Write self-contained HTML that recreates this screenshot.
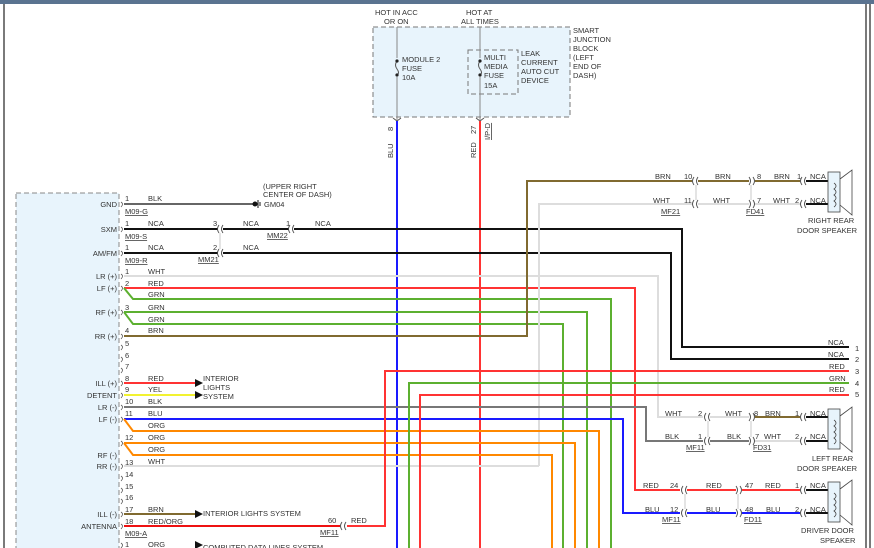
<!DOCTYPE html>
<html><head><meta charset="utf-8"><style>
html,body{margin:0;padding:0;background:#fff;}
svg{display:block;font-family:"Liberation Sans",sans-serif;}
text{font-size:7.5px;fill:#333;}
.u{text-decoration:underline;}
</style></head><body>
<svg width="874" height="548" viewBox="0 0 874 548" xmlns="http://www.w3.org/2000/svg">
<rect x="0" y="0" width="874" height="4" fill="#5a7390"/>
<line x1="4" y1="4" x2="4" y2="548" stroke="#222" stroke-width="1.2"/>
<line x1="866" y1="4" x2="866" y2="548" stroke="#222" stroke-width="1.2"/>
<line x1="870" y1="4" x2="870" y2="548" stroke="#222" stroke-width="1.2"/>

<!-- junction block -->
<rect x="373" y="27" width="197" height="90" fill="#e8f4fc" stroke="#777" stroke-dasharray="5,3"/>
<rect x="468" y="50" width="50" height="44" fill="none" stroke="#777" stroke-dasharray="5,3"/>
<text x="375" y="15">HOT IN ACC</text><text x="384" y="24">OR ON</text>
<text x="466" y="15">HOT AT</text><text x="461" y="24">ALL TIMES</text>
<text x="573" y="33">SMART</text><text x="573" y="42">JUNCTION</text><text x="573" y="51">BLOCK</text><text x="573" y="60">(LEFT</text><text x="573" y="69">END OF</text><text x="573" y="78">DASH)</text>
<text x="521" y="56">LEAK</text><text x="521" y="65">CURRENT</text><text x="521" y="74">AUTO CUT</text><text x="521" y="83">DEVICE</text>
<text x="402" y="62">MODULE 2</text><text x="402" y="71">FUSE</text><text x="402" y="80">10A</text>
<text x="484" y="60">MULTI</text><text x="484" y="69">MEDIA</text><text x="484" y="78">FUSE</text><text x="484" y="88">15A</text>
<line x1="397" y1="27" x2="397" y2="58" stroke="#888"/><line x1="397" y1="77" x2="397" y2="120" stroke="#888"/>
<path d="M397 61 q-3 4 0 8 q3 4 0 6" fill="none" stroke="#555"/>
<circle cx="397" cy="61" r="1.6" fill="#222"/><circle cx="397" cy="75" r="1.6" fill="#222"/>
<line x1="480" y1="27" x2="480" y2="58" stroke="#888"/><line x1="480" y1="77" x2="480" y2="120" stroke="#888"/>
<path d="M480 61 q-3 4 0 8 q3 4 0 6" fill="none" stroke="#555"/>
<circle cx="480" cy="61" r="1.6" fill="#222"/><circle cx="480" cy="75" r="1.6" fill="#222"/>
<path d="M393 118 l4 3 l4 -3 M476 118 l4 3 l4 -3" fill="none" stroke="#555"/>
<text transform="translate(393,131) rotate(-90)">8</text>
<text transform="translate(393,158) rotate(-90)">BLU</text>
<text transform="translate(476,134) rotate(-90)">27</text>
<text transform="translate(476,158) rotate(-90)">RED</text>
<text class="u" transform="translate(490,140) rotate(-90)">I/P-D</text>

<!-- left module -->
<rect x="16" y="193" width="103" height="360" fill="#e8f4fc" stroke="#888" stroke-dasharray="5,3"/>
<g text-anchor="end">
<text x="117" y="207">GND</text><text x="117" y="232">SXM</text><text x="117" y="256">AM/FM</text>
<text x="117" y="279">LR (+)</text><text x="117" y="291">LF (+)</text><text x="117" y="315">RF (+)</text><text x="117" y="339">RR (+)</text>
<text x="117" y="386">ILL (+)</text><text x="117" y="398">DETENT</text><text x="117" y="410">LR (-)</text><text x="117" y="422">LF (-)</text>
<text x="117" y="458">RF (-)</text><text x="117" y="469">RR (-)</text><text x="117" y="517">ILL (-)</text><text x="117" y="529">ANTENNA</text>
</g>
<g fill="none" stroke="#555" stroke-width="0.8">
<path d="M121 202 q3 2 0 5 M121 227 q3 2 0 5 M121 251 q3 2 0 5 M121 274 q3 2 0 5 M121 286 q3 2 0 5 M121 310 q3 2 0 5 M121 334 q3 2 0 5 M121 345 q3 2 0 5 M121 357 q3 2 0 5 M121 368 q3 2 0 5 M121 381 q3 2 0 5 M121 393 q3 2 0 5 M121 405 q3 2 0 5 M121 417 q3 2 0 5 M121 441 q3 2 0 5 M121 464 q3 2 0 5 M121 476 q3 2 0 5 M121 488 q3 2 0 5 M121 499 q3 2 0 5 M121 512 q3 2 0 5 M121 524 q3 2 0 5 M121 543 q3 2 0 5"/>
</g>
<g>
<text x="125" y="201">1</text><text x="125" y="226">1</text><text x="125" y="250">1</text><text x="125" y="274">1</text><text x="125" y="286">2</text><text x="125" y="310">3</text><text x="125" y="333">4</text>
<text x="125" y="346">5</text><text x="125" y="358">6</text><text x="125" y="369">7</text><text x="125" y="381">8</text><text x="125" y="392">9</text><text x="125" y="404">10</text><text x="125" y="416">11</text><text x="125" y="440">12</text><text x="125" y="465">13</text><text x="125" y="477">14</text><text x="125" y="489">15</text><text x="125" y="500">16</text><text x="125" y="512">17</text><text x="125" y="524">18</text><text x="125" y="547">1</text>
<text x="148" y="201">BLK</text><text x="148" y="226">NCA</text><text x="148" y="250">NCA</text><text x="148" y="274">WHT</text><text x="148" y="286">RED</text><text x="148" y="297">GRN</text><text x="148" y="310">GRN</text><text x="148" y="322">GRN</text><text x="148" y="333">BRN</text>
<text x="148" y="381">RED</text><text x="148" y="392">YEL</text><text x="148" y="404">BLK</text><text x="148" y="416">BLU</text><text x="148" y="428">ORG</text><text x="148" y="440">ORG</text><text x="148" y="452">ORG</text><text x="148" y="464">WHT</text><text x="148" y="512">BRN</text><text x="148" y="524">RED/ORG</text><text x="148" y="547">ORG</text>
<text class="u" x="125" y="214">M09-G</text><text class="u" x="125" y="239">M09-S</text><text class="u" x="125" y="263">M09-R</text><text class="u" x="125" y="536">M09-A</text>
<text x="263" y="189">(UPPER RIGHT</text><text x="263" y="197">CENTER OF DASH)</text><text x="264" y="207">GM04</text>
<text x="213" y="226">3</text><text x="243" y="226">NCA</text><text x="286" y="226">1</text><text x="315" y="226">NCA</text><text class="u" x="267" y="238">MM22</text>
<text x="213" y="250">2</text><text x="243" y="250">NCA</text><text class="u" x="198" y="262">MM21</text>
<text x="203" y="381">INTERIOR</text><text x="203" y="390">LIGHTS</text><text x="203" y="399">SYSTEM</text>
<text x="203" y="516">INTERIOR LIGHTS SYSTEM</text><text x="203" y="550">COMPUTED DATA LINES SYSTEM</text>
<text x="328" y="523">60</text><text x="351" y="523">RED</text><text class="u" x="320" y="535">MF11</text>
</g>

<g fill="none" stroke-width="2">
<!-- verticals from top -->
<line x1="397" y1="121" x2="397" y2="548" stroke="#1a1aff"/>
<line x1="480" y1="121" x2="480" y2="548" stroke="#ff3333"/>
<!-- GND / SXM / AMFM -->
<line x1="124" y1="204" x2="255" y2="204" stroke="#666"/>
<polyline points="124,229 218,229" stroke="#111"/>
<polyline points="223,229 289,229" stroke="#111"/>
<polyline points="294,229 682,229 682,347 849,347" stroke="#111"/>
<polyline points="124,253 218,253" stroke="#111"/>
<polyline points="223,253 671,253 671,359 849,359" stroke="#111"/>
<!-- speaker + rows -->
<polyline points="124,276 658,276 658,417 703,417" stroke="#ddd"/>
<polyline points="124,288 635,288 635,490 680,490" stroke="#ff3333"/>
<polyline points="124,288 133,299 611,299 611,548" stroke="#5cb030"/>
<polyline points="124,312 587,312 587,548" stroke="#5cb030"/>
<polyline points="124,312 133,324 563,324 563,548" stroke="#5cb030"/>
<polyline points="124,336 527,336 527,181 692,181" stroke="#806a30"/>
<polyline points="539,466 539,204 692,204" stroke="#ddd"/>
<polyline points="124,466 539,466" stroke="#ddd"/>
<polyline points="124,383 195,383" stroke="#ff3333"/>
<polyline points="124,395 195,395" stroke="#f2f230"/>
<polyline points="124,407 646,407 646,441 703,441" stroke="#777"/>
<polyline points="124,419 623,419 623,513 680,513" stroke="#1a1aff"/>
<polyline points="124,419 133,431 599,431 599,548" stroke="#ff8800"/>
<polyline points="124,443 575,443 575,548" stroke="#ff8800"/>
<polyline points="124,443 133,455 552,455 552,548" stroke="#ff8800"/>
<polyline points="124,514 195,514" stroke="#806a30"/>
<polyline points="124,526 340,526" stroke="#ee1111"/>
<polyline points="347,526 385,526 385,371 849,371" stroke="#ff3333"/>
<polyline points="409,548 409,383 849,383" stroke="#5cb030"/>
<polyline points="420,548 420,395 849,395" stroke="#ff3333"/>
<!-- right rear -->
<line x1="698" y1="181" x2="749" y2="181" stroke="#806a30"/>
<line x1="755" y1="181" x2="800" y2="181" stroke="#806a30"/>
<line x1="698" y1="204" x2="749" y2="204" stroke="#ddd"/>
<line x1="755" y1="204" x2="800" y2="204" stroke="#ddd"/>
<line x1="806" y1="181" x2="828" y2="181" stroke="#111"/><line x1="806" y1="204" x2="828" y2="204" stroke="#111"/>
<!-- left rear -->
<line x1="710" y1="417" x2="749" y2="417" stroke="#ddd"/><line x1="755" y1="417" x2="800" y2="417" stroke="#806a30"/>
<line x1="710" y1="441" x2="749" y2="441" stroke="#777"/><line x1="755" y1="441" x2="800" y2="441" stroke="#ddd"/>
<line x1="806" y1="417" x2="828" y2="417" stroke="#111"/><line x1="806" y1="441" x2="828" y2="441" stroke="#111"/>
<!-- driver -->
<line x1="687" y1="490" x2="736" y2="490" stroke="#ff3333"/><line x1="742" y1="490" x2="800" y2="490" stroke="#ff3333"/>
<line x1="687" y1="513" x2="736" y2="513" stroke="#1a1aff"/><line x1="742" y1="513" x2="800" y2="513" stroke="#1a1aff"/>
<line x1="806" y1="490" x2="828" y2="490" stroke="#111"/><line x1="806" y1="513" x2="828" y2="513" stroke="#111"/>
</g>
<!-- arrows -->
<path d="M195 379 l8 4 l-8 4z M195 391 l8 4 l-8 4z M195 510 l8 4 l-8 4z M195 541 l8 4 l-8 4z" fill="#111"/>
<!-- ground -->
<circle cx="255" cy="204" r="2.5" fill="#111"/>
<path d="M258 200 v8 M260 202 v4" stroke="#111"/>
<!-- connector glyphs -->
<g fill="none" stroke="#444" stroke-width="0.9">
<path d="M219 225 q-3 4 0 8 M223 225 q-3 4 0 8 M219 249 q-3 4 0 8 M223 249 q-3 4 0 8 M290 225 q-3 4 0 8 M294 225 q-3 4 0 8 M342 522 q-3 4 0 8 M346 522 q-3 4 0 8"/>
<path d="M694 177 q-3 4 0 8 M698 177 q-3 4 0 8 M694 200 q-3 4 0 8 M698 200 q-3 4 0 8 M749 177 q3 4 0 8 M753 177 q3 4 0 8 M749 200 q3 4 0 8 M753 200 q3 4 0 8 M802 177 q-3 4 0 8 M806 177 q-3 4 0 8 M802 200 q-3 4 0 8 M806 200 q-3 4 0 8"/>
<path d="M706 413 q-3 4 0 8 M710 413 q-3 4 0 8 M706 437 q-3 4 0 8 M710 437 q-3 4 0 8 M749 413 q3 4 0 8 M753 413 q3 4 0 8 M749 437 q3 4 0 8 M753 437 q3 4 0 8 M802 413 q-3 4 0 8 M806 413 q-3 4 0 8 M802 437 q-3 4 0 8 M806 437 q-3 4 0 8"/>
<path d="M683 486 q-3 4 0 8 M687 486 q-3 4 0 8 M683 509 q-3 4 0 8 M687 509 q-3 4 0 8 M736 486 q3 4 0 8 M740 486 q3 4 0 8 M736 509 q3 4 0 8 M740 509 q3 4 0 8 M802 486 q-3 4 0 8 M806 486 q-3 4 0 8 M802 509 q-3 4 0 8 M806 509 q-3 4 0 8"/>
</g>
<g stroke="#bbb" stroke-width="0.8">
<line x1="220" y1="233" x2="220" y2="249"/><line x1="696" y1="185" x2="696" y2="200"/><line x1="751" y1="185" x2="751" y2="200"/>
<line x1="708" y1="421" x2="708" y2="437"/><line x1="751" y1="421" x2="751" y2="437"/><line x1="685" y1="494" x2="685" y2="509"/><line x1="738" y1="494" x2="738" y2="509"/>
</g>
<!-- speakers -->
<g fill="#e8f4fc" stroke="#444" stroke-width="0.8">
<rect x="828" y="172" width="12" height="40"/><path d="M840 179 L852 170 V215 L840 205" fill="none"/>
<rect x="828" y="409" width="12" height="40"/><path d="M840 416 L852 407 V452 L840 442" fill="none"/>
<rect x="828" y="482" width="12" height="40"/><path d="M840 489 L852 480 V525 L840 515" fill="none"/>
<path d="M834 183 q4 3 0 6 q4 3 0 6 q4 3 0 6 q4 3 0 6 M834 420 q4 3 0 6 q4 3 0 6 q4 3 0 6 q4 3 0 6 M834 493 q4 3 0 6 q4 3 0 6 q4 3 0 6 q4 3 0 6" fill="none"/>
</g>
<g>
<text x="655" y="179">BRN</text><text x="684" y="179">10</text><text x="715" y="179">BRN</text><text x="757" y="179">8</text><text x="774" y="179">BRN</text><text x="797" y="179">1</text><text x="810" y="179">NCA</text>
<text x="653" y="203">WHT</text><text x="684" y="203">11</text><text x="713" y="203">WHT</text><text x="757" y="203">7</text><text x="773" y="203">WHT</text><text x="795" y="203">2</text><text x="810" y="203">NCA</text>
<text class="u" x="661" y="214">MF21</text><text class="u" x="746" y="214">FD41</text>
<text x="808" y="223">RIGHT REAR</text><text x="797" y="233">DOOR SPEAKER</text>
<text x="828" y="345">NCA</text><text x="828" y="357">NCA</text><text x="829" y="369">RED</text><text x="829" y="381">GRN</text><text x="829" y="392">RED</text>
<text x="855" y="351">1</text><text x="855" y="362">2</text><text x="855" y="374">3</text><text x="855" y="386">4</text><text x="855" y="397">5</text>
<text x="665" y="416">WHT</text><text x="698" y="416">2</text><text x="725" y="416">WHT</text><text x="754" y="416">8</text><text x="765" y="416">BRN</text><text x="795" y="416">1</text><text x="810" y="416">NCA</text>
<text x="665" y="439">BLK</text><text x="698" y="439">1</text><text x="727" y="439">BLK</text><text x="755" y="439">7</text><text x="764" y="439">WHT</text><text x="795" y="439">2</text><text x="810" y="439">NCA</text>
<text class="u" x="686" y="450">MF11</text><text class="u" x="753" y="450">FD31</text>
<text x="812" y="461">LEFT REAR</text><text x="797" y="471">DOOR SPEAKER</text>
<text x="643" y="488">RED</text><text x="670" y="488">24</text><text x="706" y="488">RED</text><text x="745" y="488">47</text><text x="765" y="488">RED</text><text x="795" y="488">1</text><text x="810" y="488">NCA</text>
<text x="645" y="512">BLU</text><text x="670" y="512">12</text><text x="706" y="512">BLU</text><text x="745" y="512">48</text><text x="766" y="512">BLU</text><text x="795" y="512">2</text><text x="810" y="512">NCA</text>
<text class="u" x="662" y="522">MF11</text><text class="u" x="744" y="522">FD11</text>
<text x="801" y="533">DRIVER DOOR</text><text x="820" y="543">SPEAKER</text>
</g>
</svg>
</body></html>
